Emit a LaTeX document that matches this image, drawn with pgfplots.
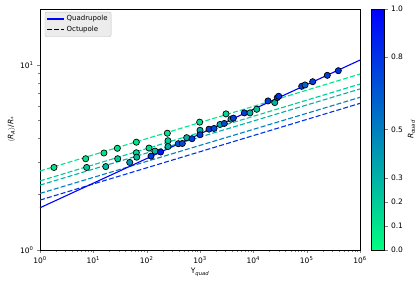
\documentclass[border=0pt]{standalone}
\usepackage{fontspec}
\setmainfont{DejaVu Sans}
\usepackage{pgfplots}
\pgfplotsset{compat=1.18}
\definecolor{ra}{rgb}{0,0.9,0.55}
\definecolor{rb}{rgb}{0,0.8,0.6}
\definecolor{rc}{rgb}{0,0.7,0.65}
\definecolor{rd}{rgb}{0,0.5,0.75}
\definecolor{re}{rgb}{0,0.2,0.9}
\begin{document}
\begin{tikzpicture}
\begin{axis}[
  name=main,
  scale only axis, width=320pt, height=241pt,
  xmode=log, ymode=log,
  xmin=1, xmax=1e6, ymin=1, ymax=20,
  xtick={1,10,100,1000,10000,100000,1000000},
  xticklabels={10\textsuperscript{0},10\textsuperscript{1},10\textsuperscript{2},10\textsuperscript{3},10\textsuperscript{4},10\textsuperscript{5},10\textsuperscript{6}},
  ytick={1,10},
  yticklabels={10\textsuperscript{0},10\textsuperscript{1}},
  tick pos=left, tick align=outside,
  major tick length=3pt, minor tick length=1.8pt,
  tick label style={font=\fontsize{7.5}{9}\selectfont},
  label style={font=\fontsize{7.5}{9}\selectfont},
  xlabel={Υ\textsubscript{\textit{quad}}},
  ylabel={$\langle$\textit{R}\textsubscript{\textit{A}}$\rangle$/\textit{R}\textsubscript{*}},
  xlabel style={yshift=2pt},
  ylabel style={yshift=-2pt},
  colormap={winterr}{rgb=(0,1,0.5) rgb=(0,0,1)},
  point meta min=0, point meta max=1,
  colorbar,
  colorbar style={
    at={(parent axis.north east)}, anchor=north west, xshift=3pt,
    width=13pt,
    ytick={0,0.1,0.2,0.3,0.5,0.8,1},
    yticklabels={0.0,0.1,0.2,0.3,0.5,0.8,1.0},
    ytick pos=right, tick align=outside, major tick length=3pt,
    yticklabel style={font=\fontsize{7.5}{9}\selectfont},
    ylabel={\textit{R}\textsubscript{\textit{quad}}},
    ylabel style={font=\fontsize{7.5}{9}\selectfont, yshift=2pt},
  },
  legend style={at={(0.015,0.988)}, anchor=north west, fill=gray!15, draw=gray!50,
    rounded corners=2pt, font=\fontsize{7}{8.5}\selectfont, inner sep=1.5pt},
  legend cell align=left,
]
\addlegendimage{blue, line width=1.1pt}
\addlegendentry{Quadrupole}
\addlegendimage{black, line width=1.1pt, dash pattern=on 5pt off 2.2pt}
\addlegendentry{Octupole}
\addplot[ra, line width=1.1pt, dash pattern=on 5pt off 2.2pt, forget plot] coordinates {(1,2.67) (1e6,8.91)};
\addplot[rb, line width=1.1pt, dash pattern=on 5pt off 2.2pt, forget plot] coordinates {(1,2.36) (1e6,7.87)};
\addplot[rc, line width=1.1pt, dash pattern=on 5pt off 2.2pt, forget plot] coordinates {(1,2.24) (1e6,7.40)};
\addplot[rd, line width=1.1pt, dash pattern=on 5pt off 2.2pt, forget plot] coordinates {(1,2.02) (1e6,6.67)};
\addplot[re, line width=1.1pt, dash pattern=on 5pt off 2.2pt, forget plot] coordinates {(1,1.86) (1e6,6.19)};
\addplot[blue, line width=1.1pt, forget plot] coordinates {(1,1.69) (1e6,10.6)};
\addplot[scatter, only marks, mark=*, mark size=3.1pt, forget plot,
  scatter/use mapped color={draw=black, fill=mapped color},
  mark options={line width=0.7pt},
  point meta=explicit] table[meta=c] {
x y c
1.83 2.79 0.1
7.19 3.11 0.1
7.5 2.79 0.2
15.8 3.34 0.1
17.1 2.82 0.25
28.2 3.54 0.1
28.6 3.11 0.2
48.1 2.97 0.4
64 3.82 0.1
64 3.35 0.15
65 3.17 0.25
110.6 3.55 0.15
120.6 3.21 0.75
143 3.42 0.25
183 3.38 0.9
244 4.27 0.1
251 3.89 0.2
251 3.62 0.3
392 3.75 0.65
466 3.76 0.7
563 4.04 0.3
708 3.99 0.75
986 4.9 0.1
1000 4.43 0.3
1000 4.19 0.75
1476 4.49 0.75
1832 4.53 0.7
2371 4.76 0.3
2856 4.82 0.7
3074 5.43 0.15
3811 5.08 0.35
4217 5.15 0.75
6776 5.5 0.75
8660 5.5 0.3
11570 5.75 0.2
18840 6.38 0.75
25180 6.25 0.3
28130 6.65 0.75
29920 6.76 0.8
80700 7.65 0.75
93100 7.78 0.6
129800 8.1 0.75
243700 8.77 0.75
392400 9.29 0.8
};
\end{axis}
\pgfresetboundingbox
\path ([shift={(-40pt,-37pt)}]main.south west) rectangle ([shift={(55pt,9pt)}]main.north east);
\end{tikzpicture}
\end{document}
